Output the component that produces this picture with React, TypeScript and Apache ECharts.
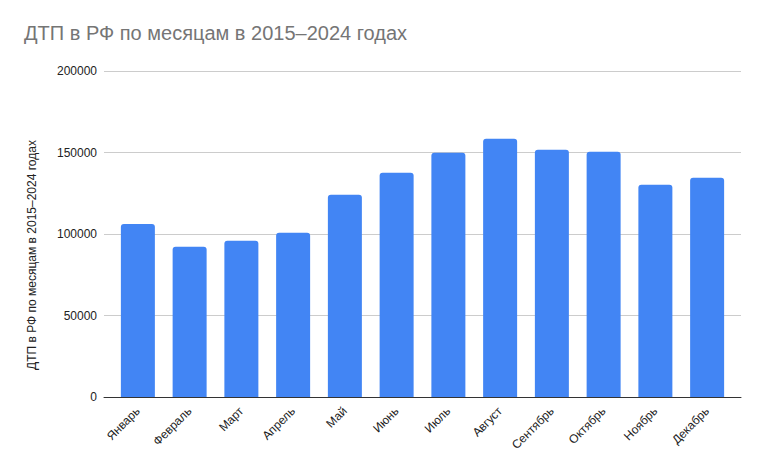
import { useEffect, useRef } from 'react';
import * as echarts from 'echarts';

const title = 'ДТП в РФ по месяцам в 2015–2024 годах';
const months = [
  'Январь', 'Февраль', 'Март', 'Апрель', 'Май', 'Июнь',
  'Июль', 'Август', 'Сентябрь', 'Октябрь', 'Ноябрь', 'Декабрь',
];
const accidents = [
  106100, 92200, 95900, 100800, 124100, 137600,
  149800, 158400, 151700, 150400, 130200, 134500,
];
const yMax = 200000;
const yStep = 50000;

const font = 'Arial, "Liberation Sans", sans-serif';

export default function App() {
  const ref = useRef<HTMLDivElement>(null);

  useEffect(() => {
    document.body.style.margin = '0';
    if (!ref.current) {
      return undefined;
    }
    const chart = echarts.init(ref.current, undefined, { renderer: 'svg' });
    const option: echarts.EChartsOption = {
      animation: false,
      backgroundColor: '#fff',
      textStyle: { fontFamily: font },
      title: {
        text: title,
        left: 24,
        top: 23,
        padding: 0,
        textStyle: { fontFamily: font, fontSize: 20, fontWeight: 'normal', color: '#757575' },
      },
      // grid 0 carries the gridlines and base line, grid 1 the bars (google-style inset)
      grid: [
        { left: 104, right: 24, top: 71, bottom: 75 },
        { left: 112, right: 32, top: 71, bottom: 75 },
      ],
      xAxis: [
        {
          type: 'category',
          gridIndex: 0,
          data: months,
          axisLine: { lineStyle: { color: '#333', width: 1 } },
          axisTick: { show: false },
          axisLabel: { show: false },
        },
        {
          type: 'category',
          gridIndex: 1,
          data: months,
          axisLine: { show: false },
          axisTick: { show: false },
          axisLabel: { rotate: 45, margin: 12, fontSize: 12, color: '#222', fontFamily: font },
        },
      ],
      yAxis: [
        {
          type: 'value',
          gridIndex: 0,
          min: 0,
          max: yMax,
          interval: yStep,
          axisLine: { show: false },
          axisTick: { show: false },
          axisLabel: {
            margin: 7,
            fontSize: 12,
            color: '#222',
            fontFamily: font,
            formatter: (v: number) => String(v),
          },
          splitLine: { lineStyle: { color: '#ccc' } },
        },
        {
          type: 'value',
          gridIndex: 1,
          min: 0,
          max: yMax,
          interval: yStep,
          show: false,
          splitLine: { show: false },
        },
      ],
      graphic: [
        {
          type: 'text',
          x: 32,
          y: 255,
          rotation: Math.PI / 2,
          style: {
            text: title,
            fontSize: 12,
            fontFamily: font,
            fill: '#222',
            align: 'center',
            verticalAlign: 'middle',
          },
        },
      ],
      series: [
        {
          type: 'bar',
          xAxisIndex: 1,
          yAxisIndex: 1,
          data: accidents,
          barWidth: 34,
          itemStyle: { color: '#4285F4', borderRadius: [3, 3, 0, 0] },
        },
      ],
    };
    chart.setOption(option);
    return () => {
      chart.dispose();
    };
  }, []);

  return <div ref={ref} style={{ width: 765, height: 472 }} />;
}
